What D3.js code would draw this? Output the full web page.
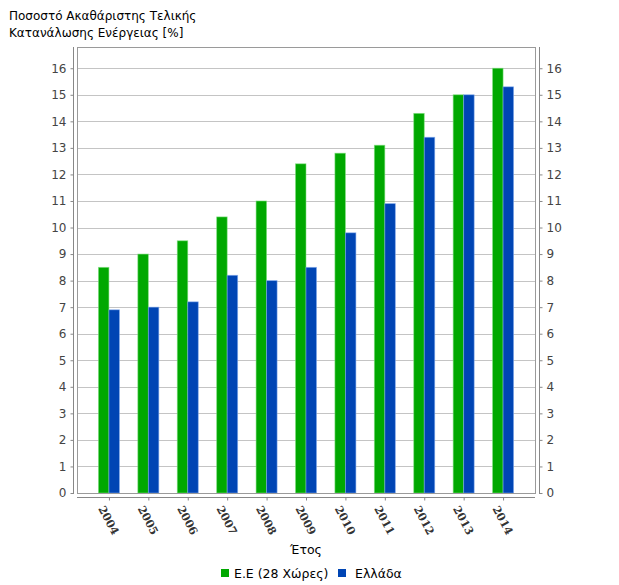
<!DOCTYPE html>
<html><head><meta charset="utf-8">
<script src="https://cdn.jsdelivr.net/npm/d3@7/dist/d3.min.js"></script>
<style>body{margin:0;background:#fff}svg{display:block}</style>
</head><body>
<svg id="c" width="619" height="585"></svg>
<script>
const years = ["2004","2005","2006","2007","2008","2009","2010","2011","2012","2013","2014"];
const euValues = [8.5, 9.0, 9.5, 10.4, 11.0, 12.4, 12.8, 13.1, 14.3, 15.0, 16.0];
const grValues = [6.9, 7.0, 7.2, 8.2, 8.0, 8.5, 9.8, 10.9, 13.4, 15.0, 15.3];
const seriesNames = ["Ε.Ε (28 Χώρες)", "Ελλάδα"];
const yTicks = d3.range(0, 17);
const titleLines = ["Ποσοστό Ακαθάριστης Τελικής", "Κατανάλωσης Ενέργειας [%]"];
const xTitle = "Έτος";

const colors = ["#00a800", "#0045b4"];
const edge = ["#7fe07f", "#7fa8ec"];
const font = "DejaVu Sans, sans-serif";

const svg = d3.select("#c");
const L = 77, R = 535, T = 47, B = 493;
const y = d3.scaleLinear().domain([0, 16.8]).range([B, T]);
const x = d3.scalePoint().domain(years).range([L, R]).padding(0.81);
const bw = 10.5;

// gridlines
svg.append("g").selectAll("line").data(yTicks).join("line")
  .attr("x1", L).attr("x2", R)
  .attr("y1", d => Math.round(y(d)) + 0.5).attr("y2", d => Math.round(y(d)) + 0.5)
  .attr("stroke", "#c4c4c4").attr("stroke-width", 1);

// bars
const series = [euValues, grValues];
series.forEach((vals, si) => {
  svg.append("g").selectAll("rect").data(vals).join("rect")
    .attr("x", (d, i) => x(years[i]) - bw + si * bw)
    .attr("y", d => y(d))
    .attr("width", bw)
    .attr("height", d => B - y(d))
    .attr("fill", colors[si])
    .attr("stroke", edge[si]).attr("stroke-width", 0.8).attr("stroke-opacity", 0.7);
});

// plot frame
svg.append("rect").attr("x", L + 0.5).attr("y", T + 0.5).attr("width", R - L).attr("height", B - T)
  .attr("fill", "none").attr("stroke", "#9a9a9a");

// left axis
const yl = d3.axisLeft(y).tickValues(yTicks).tickFormat(d3.format("d")).tickSize(3).tickPadding(4);
const gl = svg.append("g").attr("transform", "translate(73.5,0)").call(yl);
gl.select(".domain").attr("d", `M0,${T}V${B+1}`).attr("stroke", "#888");
// right axis
const yr = d3.axisRight(y).tickValues(yTicks).tickFormat(d3.format("d")).tickSize(3).tickPadding(4);
const gr = svg.append("g").attr("transform", "translate(539.5,0)").call(yr);
gr.select(".domain").attr("d", `M0,${T}V${B+1}`).attr("stroke", "#888");
[gl, gr].forEach(g => {
  g.selectAll(".tick line").attr("stroke", "#888");
  g.selectAll("text").attr("font-family", font).attr("font-size", 12).attr("fill", "#444");
});

// x axis
const xa = d3.axisBottom(x).tickSize(3).tickFormat(() => "");
const gx = svg.append("g").attr("transform", "translate(0,497.5)").call(xa);
gx.select(".domain").attr("d", `M${L},0H${R}`).attr("stroke", "#888");
gx.selectAll(".tick line").attr("stroke", "#888");
svg.append("g").selectAll("text").data(years).join("text")
  .attr("transform", d => `translate(${x(d) - 4},505) rotate(62)`)
  .attr("font-family", "DejaVu Serif, serif").attr("font-weight", "bold").attr("font-size", 11)
  .attr("fill", "#333").attr("dy", "0.7em")
  .text(d => d);

// titles
svg.append("g").selectAll("text").data(titleLines).join("text")
  .attr("x", 9).attr("y", (d, i) => 20 + i * 17)
  .attr("font-family", font).attr("font-size", 12).attr("fill", "#000")
  .text(d => d);
svg.append("text").attr("x", 306).attr("y", 554).attr("text-anchor", "middle")
  .attr("font-family", font).attr("font-size", 12.5).attr("fill", "#000").text(xTitle);

// legend
const legX = [221, 338];
const lg = svg.append("g");
seriesNames.forEach((n, i) => {
  lg.append("rect").attr("x", legX[i]).attr("y", 569).attr("width", 8).attr("height", 8).attr("fill", colors[i]);
  lg.append("text").attr("x", legX[i] + (i === 0 ? 13 : 17)).attr("y", 578)
    .attr("font-family", font).attr("font-size", 12.5).attr("fill", "#000").text(n);
});
</script>
</body></html>
